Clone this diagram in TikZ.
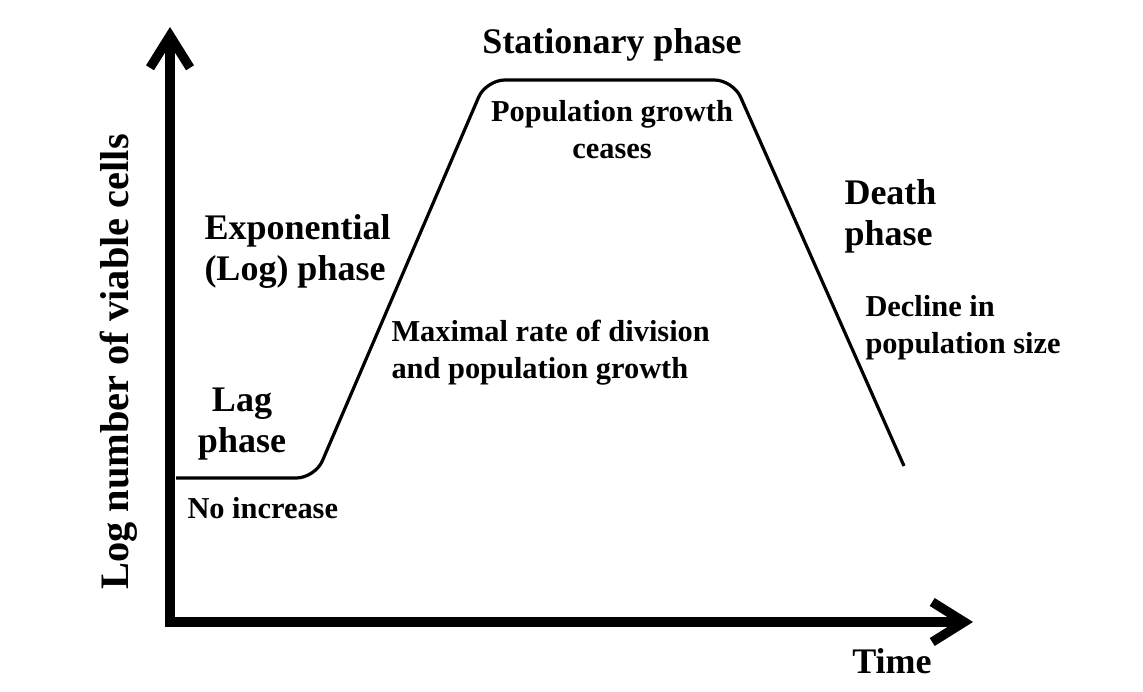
\documentclass[tikz,border=0pt]{standalone}
\usepackage{fontspec}
\setmainfont{Liberation Serif}
\usetikzlibrary{arrows.meta}

\tikzset{every picture/.style={line width=0.75pt}}
\tikzset{
  axis/.style={line width=7pt, -{Straight Barb[length=24pt,width=30pt,line width=7pt]}},
  curve/.style={line width=2.4pt, rounded corners=14pt},
  phase/.style={inner sep=0.75pt, font=\fontsize{27}{31}\selectfont\bfseries, align=left},
  note/.style={inner sep=0.75pt, font=\fontsize{22.8}{27.75}\selectfont\bfseries, align=left}
}

\begin{document}
\begin{tikzpicture}[x=0.75pt,y=0.75pt,yscale=-1,xscale=1]
\useasboundingbox (0,0) rectangle (1143,692);
% axes
\coordinate (origin) at (170,622);
\coordinate (ytip) at (170,27);
\coordinate (xtip) at (973,622);
\draw [axis] (origin) -- (ytip);
\draw [axis] ([xshift=-3.5pt]origin) -- (xtip);
% growth curve
\coordinate (lag0) at (176,478);
\coordinate (lag1) at (315,478);
\coordinate (top0) at (486,80);
\coordinate (top1) at (733,80);
\coordinate (dead) at (904,466);
\draw [curve] (lag0) -- (lag1) -- (top0) -- (top1) -- (dead);

% Text Node
\node [phase, anchor=base] (stat) at (612,54) {Stationary phase};
% Text Node
\node [note, align=center, anchor=north] (ceases) at (612,99) {Population growth\\ceases};
% Text Node
\node [phase, anchor=north west] (expo) at (203,213) {Exponential\\(Log) phase};
% Text Node
\node [note, anchor=north west] (maxrate) at (390,319) {Maximal rate of division\\and population growth};
% Text Node
\node [phase, align=center, anchor=north] (lag) at (242,386) {Lag\\phase};
% Text Node
\node [note, anchor=base west] (noinc) at (186,518) {No increase};
% Text Node
\node [phase, anchor=north west] (death) at (843,178) {Death\\phase};
% Text Node
\node [note, anchor=north west] (decline) at (864,294) {Decline in\\population size};
% Text Node
\node [phase, anchor=base] (time) at (892,673) {Time};
% Text Node
\node [phase, font=\fontsize{30.3}{34}\selectfont\bfseries, rotate=90, anchor=center] (ylab) at (119,362) {Log number of viable cells};
\end{tikzpicture}
\end{document}
